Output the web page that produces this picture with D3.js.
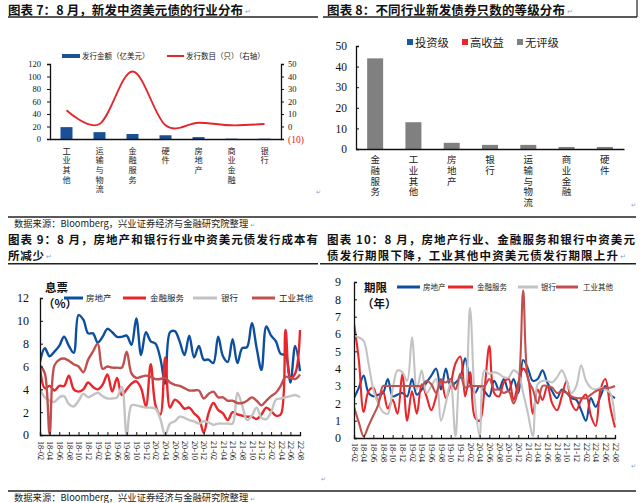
<!DOCTYPE html>
<html><head><meta charset="utf-8">
<script src="https://cdn.jsdelivr.net/npm/d3@7"></script>
<style>body{margin:0;background:#fff}svg{display:block}</style>
</head><body><svg id="c" width="640" height="503"></svg>
<script>
// ---------------- DATA ----------------
const months = ["18-02","18-03","18-04","18-05","18-06","18-07","18-08","18-09","18-10","18-11","18-12",
"19-01","19-02","19-03","19-04","19-05","19-06","19-07","19-08","19-09","19-10","19-11","19-12",
"20-01","20-02","20-03","20-04","20-05","20-06","20-07","20-08","20-09","20-10","20-11","20-12",
"21-01","21-02","21-03","21-04","21-05","21-06","21-07","21-08","21-09","21-10","21-11","21-12",
"22-01","22-02","22-03","22-04","22-05","22-06","22-07","22-08"];

// Chart 7
const cat7 = ["工业其他","运输与物流","金融服务","硬件","房地产","商业金融","银行"];
const amount7 = [19, 11, 8, 6, 3, 0.5, 0.5];
const count7 = [13, 2, 44, 1, 3, 1, 2];
const ticks7L = [0,20,40,60,80,100,120];
const ticks7R = [-10,0,10,20,30,40,50];
const legend7 = ["发行金额（亿美元）","发行数目（只）（右轴）"];

// Chart 8
const cat8 = ["金融服务","工业其他","房地产","银行","运输与物流","商业金融","硬件"];
const invest8 = [0,0,0,0,0,0,0];
const highYield8 = [0,0,0,0,0,0,0];
const unrated8 = [44,13,3,2,2,1,1];
const ticks8 = [0,10,20,30,40,50];
const legend8 = ["投资级","高收益","无评级"];

// Chart 9 (coupon, %)
const realEstate9 = [6.4,7.6,6.9,7.3,7.8,8.6,7.8,7.2,10.5,10.1,8.9,8.9,8.1,8.6,9.3,9.0,8.6,8.6,8.7,7.9,10.2,7.0,9.0,8.2,8.0,6.7,4.5,9.0,9.1,8.2,7.0,8.7,6.8,7.8,6.6,6.6,6.3,8.6,6.9,6.4,8.4,6.3,7.6,7.7,9.8,7.6,5.7,9.5,8.7,8.2,7.1,7.0,4.6,7.8,5.6];
const finance9 = [6.0,4.1,4.3,3.9,4.3,4.3,5.2,4.0,3.8,4.0,4.6,4.2,4.0,4.4,5.3,3.8,5.0,3.5,4.0,4.5,4.7,4.1,2.5,6.2,2.6,1.8,6.8,2.4,3.1,2.8,2.3,2.4,1.9,1.5,0.2,1.9,2.8,2.2,1.9,1.3,2.0,1.8,1.7,1.6,1.6,1.4,1.8,2.4,2.1,1.7,1.8,9.2,5.0,5.4,9.2];
const bank9 = [4.0,3.3,3.0,2.9,3.3,3.4,2.7,2.5,3.0,3.6,3.3,3.5,3.7,3.4,3.2,3.2,3.3,4.2,0.0,2.6,2.6,2.5,2.4,2.4,2.3,1.4,0.0,1.0,1.2,1.6,1.5,1.3,1.2,1.0,1.2,1.1,0.9,1.0,1.0,1.0,1.0,3.7,2.6,1.3,1.7,2.4,1.5,1.4,2.0,3.1,3.2,3.3,3.4,3.5,3.3];
const industrial9 = [6.1,5.4,0.1,6.1,6.6,6.7,6.5,6.2,6.0,5.5,6.6,7.3,8.0,5.8,6.0,5.9,5.9,5.9,7.3,5.4,5.0,5.1,5.2,5.1,4.9,4.9,5.0,4.6,4.4,4.3,4.1,3.9,3.9,3.9,3.2,3.6,3.8,3.3,3.3,3.0,3.0,2.8,2.8,3.0,3.3,3.0,2.6,3.0,3.4,3.7,4.3,5.1,5.0,4.9,5.3];
const ticks9 = [0,2,4,6,8,10,12];

// Chart 10 (tenor, years)
const realEstate10 = [2.3,2.9,3.6,2.6,2.4,2.5,2.6,3.4,2.4,2.5,2.6,2.4,3.4,2.5,2.8,3.2,3.6,4.0,2.8,4.0,3.0,3.2,3.5,4.6,3.2,2.6,3.0,2.7,2.4,3.3,2.8,3.4,2.7,3.4,2.6,4.5,4.0,3.3,3.4,3.9,3.2,2.7,2.3,2.8,2.6,2.3,2.2,1.6,1.0,2.3,1.8,2.4,3.0,2.5,2.3];
const finance10 = [6.6,4.5,1.5,2.7,2.9,2.1,2.7,1.7,2.2,1.4,3.7,1.0,2.7,1.4,3.1,2.4,1.6,2.4,3.4,2.3,3.1,4.3,4.7,2.4,3.8,1.2,1.0,2.8,5.3,2.6,2.4,3.2,3.4,2.2,3.2,4.0,3.5,1.4,2.8,2.2,3.0,2.0,1.6,2.4,3.3,2.0,1.6,2.2,2.5,1.3,0.7,2.8,3.4,1.8,0.6];
const bank10 = [5.9,5.8,5.6,4.3,2.8,2.0,1.5,1.4,2.8,3.9,3.8,3.3,5.8,2.8,3.9,2.6,3.0,3.4,1.0,2.0,3.2,0.1,3.7,2.9,7.5,2.2,0.1,3.9,3.7,3.8,3.7,3.5,3.5,3.9,3.7,2.6,1.4,0.1,3.1,3.3,3.3,3.2,3.5,3.9,3.3,2.6,3.0,4.2,3.3,2.9,2.8,2.9,2.8,2.6,1.0];
const industrial10 = [1.8,0.9,0.1,0.7,1.3,1.9,3.0,3.0,3.0,3.0,3.0,3.0,3.0,3.0,3.0,3.3,3.1,2.6,3.3,3.2,3.4,2.8,3.7,2.9,3.0,3.0,3.0,3.0,3.4,2.8,2.8,2.6,2.7,2.0,2.9,8.5,3.4,2.8,2.0,3.0,3.0,2.9,2.6,2.7,2.6,2.4,2.3,2.3,2.3,2.5,2.7,2.8,2.9,2.9,3.0];
const ticks10 = [0,1,2,3,4,5,6,7,8,9];
const seriesNames = ["房地产","金融服务","银行","工业其他"];

// ---------------- STYLE ----------------
const SERIF = "'Liberation Serif','Times New Roman',serif";
const CJK = "'Noto Sans CJK SC','Noto Sans CJK JP',sans-serif";
const BLUE = "#0d4f9f", RED = "#e8262b", GRAY = "#c3c3c3", BROWN = "#c0504d", MARK = "#7aa6d8";
const colors = [BLUE, RED, GRAY, BROWN];

const svg = d3.select("#c");
svg.append("rect").attr("width",640).attr("height",503).attr("fill","#fff");

// lines: array of [x, y, string, length]
function title(lines, markAfterLast, size) {
  const t = svg.append("text").attr("font-family",CJK).attr("font-weight",700)
    .attr("font-size",size || 12.5).attr("fill","#111");
  lines.forEach(l => {
    t.append("tspan").attr("x",l[0]).attr("y",l[1]).attr("textLength",l[3])
      .attr("lengthAdjust","spacing").text(l[2]);
  });
  if (markAfterLast) {
    const l = lines[lines.length-1];
    t.append("tspan").attr("x",l[0]+l[3]+2).attr("y",l[1]-1).attr("font-family","DejaVu Sans")
      .attr("font-weight",400).attr("font-size",7).attr("fill",MARK).text("↵");
  }
}
function rule(x1,x2,y,w){ svg.append("line").attr("x1",x1).attr("x2",x2).attr("y1",y).attr("y2",y).attr("stroke","#222").attr("stroke-width",w||1.5); }
function mark(x,y){ svg.append("text").attr("x",x).attr("y",y).attr("font-family","DejaVu Sans").attr("font-size",6).attr("fill",MARK).text("↵"); }
function source(y){
  const t = svg.append("text").attr("x",14).attr("y",y).attr("font-family",CJK).attr("font-size",9.3).attr("fill","#222")
    .text("数据来源：Bloomberg，兴业证券经济与金融研究院整理");
  t.append("tspan").attr("font-family","DejaVu Sans").attr("font-size",6).attr("fill",MARK).attr("dx",2).text("↵");
}

// titles & rules
title([[8, 14.5, "图表 7：8 月，新发中资美元债的行业分布", 235]], true);
title([[327, 14.5, "图表 8：不同行业新发债券只数的等级分布", 238]], true);
rule(8, 318, 17); rule(323, 637, 17);
svg.append("line").attr("x1",637).attr("x2",637).attr("y1",0).attr("y2",17).attr("stroke","#222").attr("stroke-width",1.2);
rule(8, 636, 217);
source(227.3);
mark(316,194); mark(631,207);

title([[8, 243.5, "图表 9：8 月，房地产和银行行业中资美元债发行成本有", 310]], false, 11.5);
title([[8, 260.3, "所减少", 36]], true, 11.5);
title([[327, 243.5, "图表 10：8 月，房地产行业、金融服务和银行中资美元", 308]], false, 11.5);
title([[327, 260.3, "债发行期限下降，工业其他中资美元债发行期限上升", 291]], true, 11.5);
rule(8, 318, 263.8); rule(320, 636, 263.8);
rule(8, 636, 491);
source(500.5);
mark(321,481); mark(631,468);

function styleAxis(g, size) {
  g.select(".domain").attr("stroke","#111").attr("stroke-width",1.3);
  g.selectAll(".tick line").attr("stroke","#111").attr("stroke-width",1);
  g.selectAll(".tick text").attr("font-family",SERIF).attr("font-size",size).attr("fill","#111");
}
function verticalLabels(scale, cats, top, size, spacing) {
  svg.append("g").selectAll("text").data(cats).join("text")
    .attr("x", c => scale(c) + scale.bandwidth()/2).attr("y", top)
    .attr("font-family", CJK).attr("font-size", size).attr("fill", "#222")
    .attr("letter-spacing", spacing)
    .style("writing-mode", "vertical-rl").style("text-orientation", "upright")
    .text(c => c);
}

// ---------------- CHART 7 ----------------
{
  const x = d3.scaleBand().domain(cat7).range([50, 281]);
  const yL = d3.scaleLinear().domain([0,120]).range([139, 64]);
  const yR = d3.scaleLinear().domain([-10,50]).range([139, 64]);
  svg.append("g").selectAll("rect").data(cat7).join("rect")
    .attr("x", d => x(d) + x.bandwidth()/2 - 6).attr("width", 12)
    .attr("y", (d,i) => yL(amount7[i])).attr("height", (d,i) => yL(0) - yL(amount7[i]))
    .attr("fill", "#1a5096");
  const gL = svg.append("g").attr("transform","translate(50,0)")
    .call(d3.axisLeft(yL).tickValues(ticks7L).tickSize(3).tickPadding(6));
  styleAxis(gL, 8.5);
  const gR = svg.append("g").attr("transform","translate(281,0)")
    .call(d3.axisRight(yR).tickValues(ticks7R).tickSize(3).tickPadding(4)
      .tickFormat(d => d < 0 ? "(" + (-d) + ")" : d));
  styleAxis(gR, 8.5);
  gR.selectAll(".tick text").filter(d => d < 0).attr("fill", "#e02020").attr("font-size", 9.5);
  const gB = svg.append("g").attr("transform","translate(0,139)")
    .call(d3.axisBottom(x).tickSize(0).tickFormat(""));
  styleAxis(gB, 8);
  const line = d3.line().x((d,i) => x(cat7[i]) + x.bandwidth()/2).y(d => yR(d)).curve(d3.curveCardinal.tension(0));
  svg.append("path").datum(count7).attr("d", line).attr("fill","none").attr("stroke","#e3262b").attr("stroke-width",1.8);
  verticalLabels(x, cat7, 146.5, 8.2, 1.4);
  svg.append("rect").attr("x",62).attr("y",54).attr("width",18).attr("height",4).attr("fill","#1a5096");
  svg.append("text").attr("x",82).attr("y",58.7).attr("font-family",CJK).attr("font-size",7.5).attr("fill","#222").text(legend7[0]);
  svg.append("line").attr("x1",167).attr("x2",184).attr("y1",56).attr("y2",56).attr("stroke","#e3262b").attr("stroke-width",2);
  svg.append("text").attr("x",186).attr("y",58.7).attr("font-family",CJK).attr("font-size",7.5).attr("fill","#222").text(legend7[1]);
}

// ---------------- CHART 8 ----------------
{
  const x = d3.scaleBand().domain(cat8).range([356, 624]);
  const y = d3.scaleLinear().domain([0,50]).range([149, 46]);
  const fills = ["#1c56a8","#e8262b","#808080"];
  cat8.forEach((c,i) => {
    let base = 0;
    [invest8[i], highYield8[i], unrated8[i]].forEach((v,k) => {
      if (v > 0) svg.append("rect").attr("x", x(c) + x.bandwidth()/2 - 8).attr("width",16)
        .attr("y", y(base + v)).attr("height", y(base) - y(base + v)).attr("fill", fills[k]);
      base += v;
    });
  });
  const gL = svg.append("g").attr("transform","translate(356,0)")
    .call(d3.axisLeft(y).tickValues(ticks8).tickSize(-3).tickPadding(9));
  styleAxis(gL, 11.5);
  const gB = svg.append("g").attr("transform","translate(0,149)")
    .call(d3.axisBottom(x).tickSize(0).tickFormat(""));
  styleAxis(gB, 8);
  verticalLabels(x, cat8, 155, 9.5, 1.2);
  const lx = [407, 462, 517];
  legend8.forEach((n,k) => {
    svg.append("rect").attr("x",lx[k]).attr("y",39).attr("width",6).attr("height",6).attr("fill",fills[k]);
    svg.append("text").attr("x",lx[k]+8).attr("y",46.5).attr("font-family",CJK).attr("font-size",11.3).attr("fill","#222").text(n);
  });
}

// ---------------- line chart helper ----------------
function lineChart(o) {
  const x = d3.scalePoint().domain(months).range([o.x0, o.x1]);
  const y = d3.scaleLinear().domain([0, o.ymax]).range([o.yb, o.yt]);
  const id = "clip" + o.x0;
  svg.append("clipPath").attr("id", id).append("rect")
    .attr("x", o.x0).attr("y", o.yt - 10).attr("width", o.x1 - o.x0 + 4).attr("height", o.yb - o.yt + 10);
  const line = d3.line().x((d,i) => x(months[i])).y(d => y(d)).curve(d3.curveCatmullRom.alpha(0.5));
  const g = svg.append("g").attr("clip-path", "url(#" + id + ")");
  o.series.forEach((s,k) => {
    g.append("path").datum(s).attr("d", line).attr("fill","none")
      .attr("stroke", colors[k]).attr("stroke-width", o.lw).attr("stroke-linejoin","round");
  });
  const gL = svg.append("g").attr("transform","translate(" + o.x0 + ",0)")
    .call(d3.axisLeft(y).tickValues(o.ticks).tickSize(-3).tickPadding(o.pad));
  styleAxis(gL, 12);
  const gB = svg.append("g").attr("transform","translate(0," + o.yb + ")")
    .call(d3.axisBottom(x).tickValues(months.filter((d,i) => i % 2 === 0)).tickSize(-3));
  styleAxis(gB, 8.2);
  gB.selectAll(".tick text").attr("transform","rotate(90)").attr("text-anchor","start")
    .attr("x", o.lblOff).attr("y", 0).attr("dy","0.33em");
  svg.append("text").attr("x",o.ux).attr("y",o.uy).attr("font-family",CJK).attr("font-weight",700)
    .attr("font-size",11.5).attr("fill","#111").text(o.unit1);
  svg.append("text").attr("x",o.ux-2).attr("y",o.uy+16).attr("font-family",CJK).attr("font-weight",700)
    .attr("font-size",11.5).attr("fill","#111").text(o.unit2);
  seriesNames.forEach((n,k) => {
    svg.append("line").attr("x1",o.leg[k][0]).attr("x2",o.leg[k][1]).attr("y1",o.ly).attr("y2",o.ly)
      .attr("stroke",colors[k]).attr("stroke-width",3);
    svg.append("text").attr("x",o.leg[k][2]).attr("y",o.ly+3).attr("font-family",CJK)
      .attr("font-size",o.lfs).attr("fill","#222").text(n);
  });
}

lineChart({x0:40, x1:300, yb:435, yt:298, ymax:12, ticks:ticks9, pad:11, lw:2.4, lblOff:6,
  series:[realEstate9, finance9, bank9, industrial9],
  unit1:"息票", unit2:"（%）", ux:45, uy:292,
  ly:298, lfs:8.5, leg:[[64,83,86],[123,146,150],[193,217,221],[252,275,279]]});

lineChart({x0:354, x1:615, yb:438, yt:282, ymax:9, ticks:ticks10, pad:13, lw:2.1, lblOff:5,
  series:[realEstate10, finance10, bank10, industrial10],
  unit1:"期限", unit2:"（年）", ux:364, uy:292,
  ly:287, lfs:7.5, leg:[[397,420,423],[448,473,477],[518,538,541],[556,578,583]]});
</script></body></html>
